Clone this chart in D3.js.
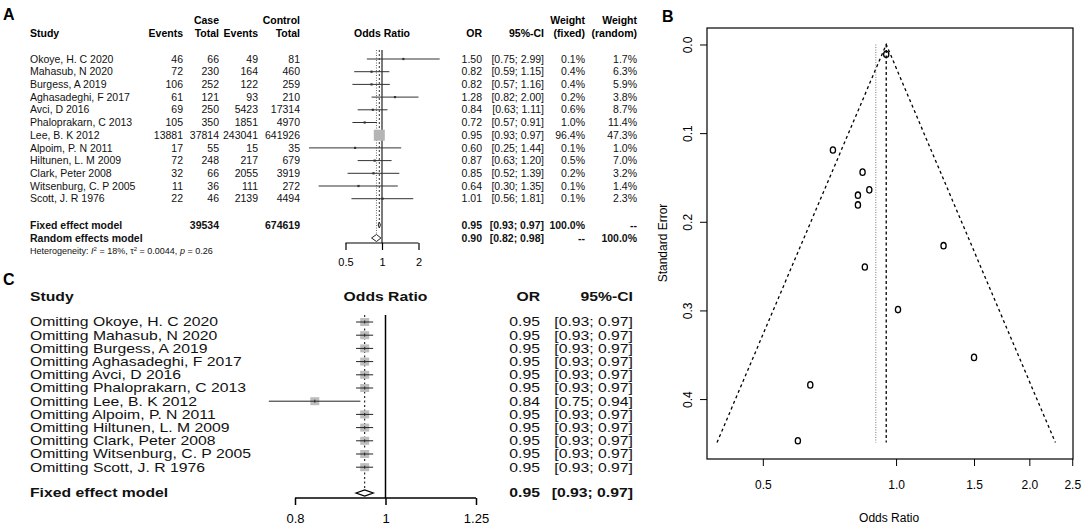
<!DOCTYPE html>
<html>
<head>
<meta charset="utf-8">
<script src="https://cdn.jsdelivr.net/npm/d3@7"></script>
<style>
body { margin: 0; background: #fff; }
svg { font-family: "Liberation Sans", Arial, sans-serif; }
.hdr { font-weight: bold; font-size: 10.5px; }
.cell { font-size: 10.5px; fill: #111; }
.bold { font-weight: bold; }
.cText { font-size: 12.5px; fill: #111; }
.letter { font-weight: bold; font-size: 16px; }
.axisLbl { font-size: 12px; }
</style>
</head>
<body>
<script>
//Study data (panel A)
const studies = ["Okoye, H. C 2020", "Mahasub, N 2020", "Burgess, A 2019", "Aghasadeghi, F 2017",
  "Avci, D 2016", "Phaloprakarn, C 2013", "Lee, B. K 2012", "Alpoim, P. N 2011",
  "Hiltunen, L. M 2009", "Clark, Peter 2008", "Witsenburg, C. P 2005", "Scott, J. R 1976"];
const caseEvents = [46, 72, 106, 61, 69, 105, 13881, 17, 72, 32, 11, 22];
const caseTotal = [66, 230, 252, 121, 250, 350, 37814, 55, 248, 66, 36, 46];
const ctrlEvents = [49, 164, 122, 93, 5423, 1851, 243041, 15, 217, 2055, 111, 2139];
const ctrlTotal = [81, 460, 259, 210, 17314, 4970, 641926, 35, 679, 3919, 272, 4494];
const orVals = [1.50, 0.82, 0.82, 1.28, 0.84, 0.72, 0.95, 0.60, 0.87, 0.85, 0.64, 1.01];
const ciLow = [0.75, 0.59, 0.57, 0.82, 0.63, 0.57, 0.93, 0.25, 0.63, 0.52, 0.30, 0.56];
const ciHigh = [2.99, 1.15, 1.16, 2.00, 1.11, 0.91, 0.97, 1.44, 1.20, 1.39, 1.35, 1.81];
const wFixed = [0.1, 0.4, 0.4, 0.2, 0.6, 1.0, 96.4, 0.1, 0.5, 0.2, 0.1, 0.1];
const wRandom = [1.7, 6.3, 5.9, 3.8, 8.7, 11.4, 47.3, 1.0, 7.0, 3.2, 1.4, 2.3];
//pooled models [OR, low, high]
const fixedModel = [0.95, 0.93, 0.97];
const randomModel = [0.90, 0.82, 0.98];
const fixedTotals = [39534, 674619];
const forestTicks = [0.5, 1, 2];

//Funnel plot (panel B): standard errors
const seVals = [0.353, 0.170, 0.181, 0.227, 0.144, 0.119, 0.011, 0.447, 0.164, 0.251, 0.384, 0.299];
const funnelOR = [0.394, 0.95, 2.29];
const funnelSE = [0.449, 0, 0.449];
const funnelXTicks = [0.5, 1.0, 1.5, 2.0, 2.5];
const funnelYTicks = [0.0, 0.1, 0.2, 0.3, 0.4];

//Leave-one-out (panel C)
const looOR = [0.95, 0.95, 0.95, 0.95, 0.95, 0.95, 0.84, 0.95, 0.95, 0.95, 0.95, 0.95];
const looLow = [0.93, 0.93, 0.93, 0.93, 0.93, 0.93, 0.75, 0.93, 0.93, 0.93, 0.93, 0.93];
const looHigh = [0.97, 0.97, 0.97, 0.97, 0.97, 0.97, 0.94, 0.97, 0.97, 0.97, 0.97, 0.97];
const looTicks = [0.8, 1, 1.25];

const width = 1084, height = 526;
const f2 = d3.format(".2f");
const pct = d => d.toFixed(1) + "%";
const stretchC = 1.26; //panel C text is horizontally wide in the original

const svg = d3.select("body").append("svg")
  .attr("width", width).attr("height", height);

// ---------------- Panel A ----------------
const aRowY = i => 59 + i * 12.7;
const aFixedY = 225, aRandomY = 238;
const xA = d3.scaleLog().domain([0.5, 2]).range([345.5, 418.5]);

svg.append("text").attr("class", "letter").attr("x", 3).attr("y", 20).text("A");

const hdr = [
  ["Case", 219, 20, "end"], ["Control", 300, 20, "end"],
  ["Study", 30, 33, "start"], ["Events", 183, 33, "end"], ["Total", 219, 33, "end"],
  ["Events", 258, 33, "end"], ["Total", 300, 33, "end"], ["Odds Ratio", 382, 33, "middle"],
  ["OR", 482, 33, "end"], ["95%-CI", 544, 33, "end"],
  ["Weight", 585, 20, "end"], ["(fixed)", 585, 33, "end"],
  ["Weight", 637, 20, "end"], ["(random)", 637, 33, "end"]
];
svg.selectAll(".hdrA").data(hdr).join("text")
  .attr("class", "hdr")
  .attr("x", d => d[1]).attr("y", d => d[2]).attr("dy", "0.35em")
  .attr("text-anchor", d => d[3]).text(d => d[0]);

//table columns
const colsA = [
  [studies, 30, "start"], [caseEvents, 183, "end"], [caseTotal, 219, "end"],
  [ctrlEvents, 258, "end"], [ctrlTotal, 300, "end"],
  [orVals.map(f2), 482, "end"],
  [ciLow.map((d, i) => "[" + f2(d) + "; " + f2(ciHigh[i]) + "]"), 544, "end"],
  [wFixed.map(pct), 585, "end"], [wRandom.map(pct), 637, "end"]
];
colsA.forEach(c => {
  svg.append("g").selectAll("text").data(c[0]).join("text")
    .attr("class", "cell")
    .attr("x", c[1]).attr("y", (d, i) => aRowY(i)).attr("dy", "0.35em")
    .attr("text-anchor", c[2]).text(d => d);
});

//pooled rows
const pooledA = [
  ["Fixed effect model", 30, aFixedY, "start"],
  [fixedTotals[0], 219, aFixedY, "end"], [fixedTotals[1], 300, aFixedY, "end"],
  [f2(fixedModel[0]), 482, aFixedY, "end"],
  ["[" + f2(fixedModel[1]) + "; " + f2(fixedModel[2]) + "]", 544, aFixedY, "end"],
  ["100.0%", 585, aFixedY, "end"], ["--", 637, aFixedY, "end"],
  ["Random effects model", 30, aRandomY, "start"],
  [f2(randomModel[0]), 482, aRandomY, "end"],
  ["[" + f2(randomModel[1]) + "; " + f2(randomModel[2]) + "]", 544, aRandomY, "end"],
  ["--", 585, aRandomY, "end"], ["100.0%", 637, aRandomY, "end"]
];
svg.append("g").selectAll("text").data(pooledA).join("text")
  .attr("class", "cell bold")
  .attr("x", d => d[1]).attr("y", d => d[2]).attr("dy", "0.35em")
  .attr("text-anchor", d => d[3]).text(d => d[0]);

//heterogeneity line
const het = svg.append("text").attr("x", 30).attr("y", 250.5).attr("dy", "0.35em")
  .style("font-size", "9px").style("fill", "#111");
het.append("tspan").text("Heterogeneity: ");
het.append("tspan").style("font-style", "italic").text("I");
het.append("tspan").attr("dy", "-3").style("font-size", "6px").text("2");
het.append("tspan").attr("dy", "3").text(" = 18%, \u03c4");
het.append("tspan").attr("dy", "-3").style("font-size", "6px").text("2");
het.append("tspan").attr("dy", "3").text(" = 0.0044, ");
het.append("tspan").style("font-style", "italic").text("p");
het.append("tspan").text(" = 0.26");

//reference lines
svg.append("line").attr("x1", xA(1)).attr("x2", xA(1)).attr("y1", 50).attr("y2", 243)
  .attr("stroke", "#222").attr("stroke-width", 1.2);
svg.append("line").attr("x1", xA(fixedModel[0])).attr("x2", xA(fixedModel[0])).attr("y1", 50).attr("y2", aFixedY)
  .attr("stroke", "#333").attr("stroke-dasharray", "2,2");
svg.append("line").attr("x1", xA(randomModel[0])).attr("x2", xA(randomModel[0])).attr("y1", 50).attr("y2", aRandomY)
  .attr("stroke", "#666").attr("stroke-dasharray", "1,1.5");

//CIs and squares
svg.append("g").selectAll("line").data(orVals).join("line")
  .attr("x1", (d, i) => xA(ciLow[i])).attr("x2", (d, i) => xA(ciHigh[i]))
  .attr("y1", (d, i) => aRowY(i)).attr("y2", (d, i) => aRowY(i))
  .attr("stroke", "#333").attr("stroke-width", 1);
const sq = (w) => Math.max(2.2, 11 * Math.sqrt(w / 96.4));
svg.append("g").selectAll("rect").data(orVals).join("rect")
  .attr("x", (d, i) => xA(d) - sq(wFixed[i]) / 2)
  .attr("y", (d, i) => aRowY(i) - sq(wFixed[i]) / 2)
  .attr("width", (d, i) => sq(wFixed[i])).attr("height", (d, i) => sq(wFixed[i]))
  .attr("fill", (d, i) => wFixed[i] > 10 ? "#b5b5b5" : "#333");

//diamonds
const diamond = (m, y, h, x) =>
  `M${x(m[1])},${y} L${x(m[0])},${y - h} L${x(m[2])},${y} L${x(m[0])},${y + h} Z`;
svg.append("path").attr("d", diamond(fixedModel, aFixedY, 3, xA))
  .attr("fill", "#fff").attr("stroke", "#222");
svg.append("path").attr("d", diamond(randomModel, aRandomY, 3.5, xA))
  .attr("fill", "#fff").attr("stroke", "#222");

//axis A
const axA = svg.append("g").attr("transform", "translate(0,243)")
  .call(d3.axisBottom(xA).tickValues(forestTicks).tickFormat(d => d).tickSizeOuter(0).tickSize(7).tickPadding(8));
axA.select(".domain").attr("d", `M${xA(0.5)},0H${xA(2)}`).attr("stroke-width", 1.2);
axA.selectAll("line").attr("stroke-width", 1.2);
axA.selectAll("text").style("font-size", "11px").style("font-family", "Liberation Sans, Arial");

// ---------------- Panel C ----------------
const cRowY = i => 322 + i * 13.2;
const cFixedY = 493;
const xC = d3.scaleLog().domain([0.8, 1.25]).range([295, 476]);

svg.append("text").attr("class", "letter").attr("x", 3).attr("y", 285).text("C");

//text placed by translate, then widened
const placeC = (sel, xf, yf) => sel
  .attr("transform", (d, i) => `translate(${xf(d, i)},${yf(d, i)}) scale(${stretchC},1)`)
  .attr("dy", "0.35em");

const hdrC = [["Study", 30, "start"], ["Odds Ratio", xC(1), "middle"], ["OR", 540, "end"], ["95%-CI", 633, "end"]];
svg.append("g").selectAll("text").data(hdrC).join("text")
  .attr("class", "cText bold")
  .call(placeC, d => d[1], () => 297)
  .attr("text-anchor", d => d[2]).text(d => d[0]);

const colsC = [
  [studies.map(s => "Omitting " + s), 30, "start"],
  [looOR.map(f2), 540, "end"],
  [looLow.map((d, i) => "[" + f2(d) + "; " + f2(looHigh[i]) + "]"), 633, "end"]
];
colsC.forEach(c => {
  svg.append("g").selectAll("text").data(c[0]).join("text")
    .attr("class", "cText")
    .call(placeC, () => c[1], (d, i) => cRowY(i))
    .attr("text-anchor", c[2]).text(d => d);
});
const pooledC = [["Fixed effect model", 30, "start"], [f2(fixedModel[0]), 540, "end"],
  ["[" + f2(fixedModel[1]) + "; " + f2(fixedModel[2]) + "]", 633, "end"]];
svg.append("g").selectAll("text").data(pooledC).join("text")
  .attr("class", "cText bold")
  .call(placeC, d => d[1], () => cFixedY)
  .attr("text-anchor", d => d[2]).text(d => d[0]);

svg.append("line").attr("x1", xC(1)).attr("x2", xC(1)).attr("y1", 315).attr("y2", 498)
  .attr("stroke", "#000").attr("stroke-width", 1.5);
svg.append("line").attr("x1", xC(fixedModel[0])).attr("x2", xC(fixedModel[0])).attr("y1", 315).attr("y2", cFixedY - 3)
  .attr("stroke", "#000").attr("stroke-dasharray", "2,2.5");

svg.append("g").selectAll("rect").data(looOR).join("rect")
  .attr("x", d => xC(d) - 4.5).attr("y", (d, i) => cRowY(i) - 4)
  .attr("width", 9).attr("height", 8).attr("fill", "#bdbdbd");
svg.append("g").selectAll("line").data(looOR).join("line")
  .attr("x1", (d, i) => xC(looLow[i])).attr("x2", (d, i) => xC(looHigh[i]))
  .attr("y1", (d, i) => cRowY(i)).attr("y2", (d, i) => cRowY(i))
  .attr("stroke", "#222").attr("stroke-width", 1);
svg.append("g").selectAll(".tk").data(looOR).join("line")
  .attr("x1", d => xC(d)).attr("x2", d => xC(d))
  .attr("y1", (d, i) => cRowY(i) - 1.5).attr("y2", (d, i) => cRowY(i) + 1.5)
  .attr("stroke", "#222");
svg.append("path").attr("d", diamond(fixedModel, cFixedY, 3, xC))
  .attr("fill", "#fff").attr("stroke", "#000").attr("stroke-width", 1.3);

const axC = svg.append("g").attr("transform", "translate(0,498)")
  .call(d3.axisBottom(xC).tickValues(looTicks).tickFormat(d => d).tickSizeOuter(0).tickSize(7).tickPadding(9));
axC.select(".domain").attr("d", `M${xC(0.8)},0H${xC(1.25)}`).attr("stroke-width", 1.5);
axC.selectAll("line").attr("stroke-width", 1.5);
axC.selectAll("text").style("font-size", "13px").style("font-family", "Liberation Sans, Arial");

// ---------------- Panel B ----------------
const xB = d3.scaleLog().domain([0.374, 2.51]).range([707, 1073]);
const yB = d3.scaleLinear().domain([-0.0186, 0.4676]).range([28, 459]);

svg.append("text").attr("class", "letter").attr("x", 662).attr("y", 22).text("B");

svg.append("rect").attr("x", 707).attr("y", 28).attr("width", 1073 - 707).attr("height", 459 - 28)
  .attr("fill", "none").attr("stroke", "#000").attr("stroke-width", 1.2);

const funnelLine = d3.line().x((d, i) => xB(d)).y((d, i) => yB(funnelSE[i]));
svg.append("path").datum(funnelOR).attr("d", funnelLine)
  .attr("fill", "none").attr("stroke", "#000").attr("stroke-width", 1.3).attr("stroke-dasharray", "3,3");

svg.append("line").attr("x1", xB(fixedModel[0])).attr("x2", xB(fixedModel[0]))
  .attr("y1", yB(0)).attr("y2", yB(funnelSE[0]))
  .attr("stroke", "#000").attr("stroke-width", 1.3).attr("stroke-dasharray", "3,2.5");
svg.append("line").attr("x1", xB(randomModel[0])).attr("x2", xB(randomModel[0]))
  .attr("y1", yB(0)).attr("y2", yB(funnelSE[0]))
  .attr("stroke", "#777").attr("stroke-width", 1).attr("stroke-dasharray", "1,1.5");

svg.append("g").selectAll("ellipse").data(orVals).join("ellipse")
  .attr("cx", d => xB(d)).attr("cy", (d, i) => yB(seVals[i]))
  .attr("rx", 2.6).attr("ry", 3.2)
  .attr("fill", "none").attr("stroke", "#000").attr("stroke-width", 1.3);

const axBx = svg.append("g").attr("transform", "translate(0,459)")
  .call(d3.axisBottom(xB).tickValues(funnelXTicks).tickFormat(d3.format(".1f")).tickSizeOuter(0).tickSize(7).tickPadding(14));
axBx.select(".domain").remove();
axBx.selectAll("text").style("font-size", "12px").style("font-family", "Liberation Sans, Arial");

const axBy = svg.append("g").attr("transform", "translate(707,0)")
  .call(d3.axisLeft(yB).tickValues(funnelYTicks).tickFormat(d3.format(".1f")).tickSizeOuter(0).tickSize(7));
axBy.select(".domain").remove();
axBy.selectAll("text")
  .attr("x", 0).attr("y", 0).attr("dy", 0)
  .attr("text-anchor", "middle")
  .attr("transform", "translate(-15,0) rotate(-90)")
  .style("font-size", "12px").style("font-family", "Liberation Sans, Arial");

svg.append("text").attr("class", "axisLbl").attr("x", xB(1) - 7).attr("y", 522)
  .attr("text-anchor", "middle").text("Odds Ratio");
svg.append("text").attr("class", "axisLbl")
  .attr("transform", "translate(667,243) rotate(-90)")
  .attr("text-anchor", "middle").text("Standard Error");
</script>
</body>
</html>
